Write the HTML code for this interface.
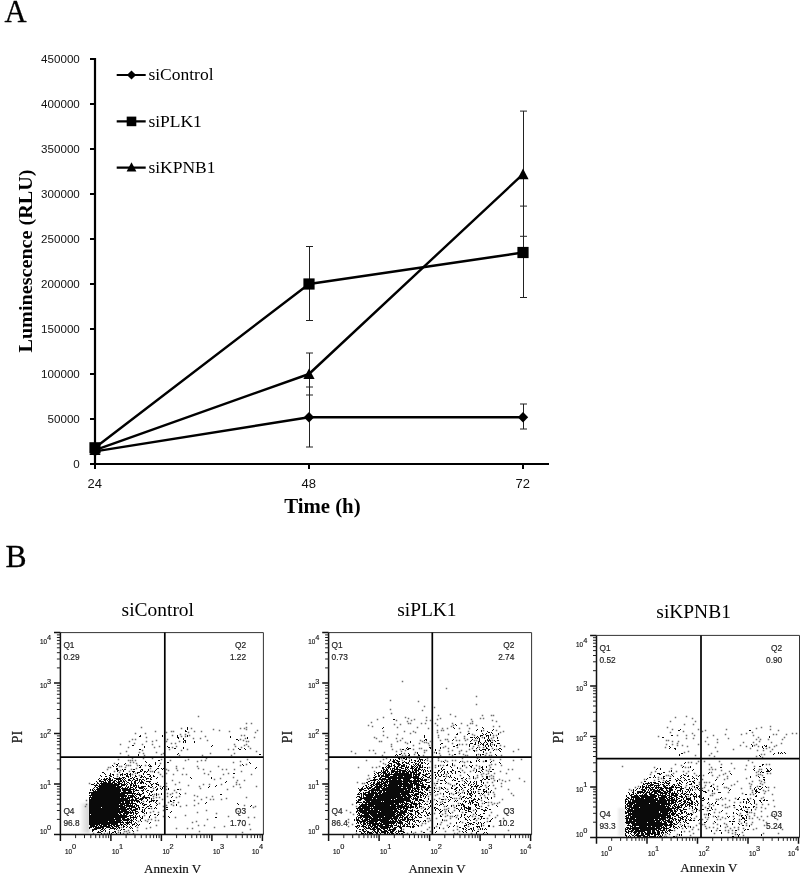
<!DOCTYPE html><html><head><meta charset="utf-8"><title>Figure</title>
<style>html,body{margin:0;padding:0;background:#fff}svg{display:block}.ser{font-family:"Liberation Serif",serif}.san{font-family:"Liberation Sans",sans-serif}</style></head><body>
<svg width="806" height="880" viewBox="0 0 806 880">
<rect width="806" height="880" fill="#fff"/>
<text class="ser" x="4.6" y="22.3" font-size="30.6" fill="#000" stroke="#000" stroke-width="0.3">A</text>
<g stroke="#000" stroke-width="2.2" fill="none">
<path d="M95 58V464H549"/>
<path d="M90 464H95M90 419H95M90 374H95M90 329H95M90 284H95M90 239H95M90 194H95M90 149H95M90 104H95M90 59H95M95 464V469M309 464V469M523 464V469" stroke-width="2"/>
</g>
<g class="san" font-size="11.6" fill="#111" text-anchor="end">
<text x="79.8" y="468.1">0</text>
<text x="79.8" y="423.1">50000</text>
<text x="79.8" y="378.1">100000</text>
<text x="79.8" y="333.1">150000</text>
<text x="79.8" y="288.1">200000</text>
<text x="79.8" y="243.1">250000</text>
<text x="79.8" y="198.1">300000</text>
<text x="79.8" y="153.1">350000</text>
<text x="79.8" y="108.1">400000</text>
<text x="79.8" y="63.1">450000</text>
</g>
<g class="san" font-size="13" fill="#111" text-anchor="middle">
<text x="94.8" y="488.2">24</text>
<text x="308.8" y="488.2">48</text>
<text x="522.8" y="488.2">72</text>
</g>
<text class="ser" x="322.4" y="513.2" font-size="20.8" font-weight="bold" text-anchor="middle" fill="#000">Time (h)</text>
<text class="ser" transform="translate(31.6,261) rotate(-90) scale(1.04,1)" font-size="19.4" font-weight="bold" text-anchor="middle" fill="#000">Luminescence (RLU)</text>
<path d="M309.5 246.5V320.5M306.0 246.5H313.0M306.0 320.5H313.0M309.5 353V395M306.0 353H313.0M306.0 395H313.0M309.5 387V447M306.0 387H313.0M306.0 447H313.0M523.5 111.1V236.30M520.0 111.1H527.0M520.0 236.30H527.0M523.5 206.10V297.5M520.0 206.10H527.0M520.0 297.5H527.0M523.5 404.0V429.0M520.0 404.0H527.0M520.0 429.0H527.0" stroke="#222" stroke-width="1" fill="none"/>
<g stroke="#000" stroke-width="2.4" fill="none" stroke-linejoin="round">
<polyline points="95,451.4 309,417.2 523,417.2"/>
<polyline points="95,447.8 309,284.0 523,252.5"/>
<polyline points="95,450.1 309,374.0 523,174.2"/>
</g>
<path d="M95 446.2L100.2 451.4L95 456.60L89.8 451.4Z" fill="#000"/>
<path d="M309 412.0L314.2 417.2L309 422.4L303.8 417.2Z" fill="#000"/>
<path d="M523 412.0L528.2 417.2L523 422.4L517.8 417.2Z" fill="#000"/>
<rect x="89.4" y="442.2" width="11.2" height="11.2" fill="#000"/>
<rect x="303.4" y="278.4" width="11.2" height="11.2" fill="#000"/>
<rect x="517.4" y="246.9" width="11.2" height="11.2" fill="#000"/>
<path d="M95 444.5L100.6 455.1L89.4 455.1Z" fill="#000"/>
<path d="M309 368.4L314.6 379.0L303.4 379.0Z" fill="#000"/>
<path d="M523 168.6L528.6 179.2L517.4 179.2Z" fill="#000"/>
<path d="M116.7 75H145.7M116.7 121.4H145.7M116.7 167.6H145.7" stroke="#000" stroke-width="2.2"/>
<path d="M131.5 70.4L136.1 75L131.5 79.6L126.9 75Z" fill="#000"/>
<rect x="126.7" y="116.60" width="9.6" height="9.6" fill="#000"/>
<path d="M131.5 162.30L136.4 171.5L126.6 171.5Z" fill="#000"/>
<g class="ser" font-size="17.5" fill="#000">
<text x="148.4" y="80.2">siControl</text><text x="148.4" y="126.6">siPLK1</text><text x="148.4" y="172.8">siKPNB1</text>
</g>
<text class="ser" x="5.4" y="567" font-size="31.6" fill="#000" stroke="#000" stroke-width="0.3">B</text>
<defs><filter id="bl" x="-50%" y="-50%" width="200%" height="200%"><feGaussianBlur stdDeviation="1.3"/></filter></defs>
<defs><linearGradient id="lg" x1="0" x2="1" y1="0" y2="0"><stop offset="0" stop-color="#fff"/><stop offset="0.5" stop-color="#e6e6e6"/><stop offset="1" stop-color="#cfcfcf"/></linearGradient></defs>
<rect x="79.5" y="803" width="10" height="30" fill="url(#lg)" filter="url(#bl)"/>
<g fill="none"><path transform="translate(-0.25,0.5)" d="M198 716h1.5M246 723h1.5M251 723h1.5M141 727h1.5M246 727h1.5M181 728h1.5M191 728h1.5M240 728h1.5M244 728h1.5M213 729h1.5M246 729h1.5M219 730h1.5M257 730h1.5M155 731h1.5M171 731h1.5M173 731h1.5M194 731h1.5M201 731h1.5M229 731h1.5M166 732h1.5M188 732h1.5M255 732h1.5M135 733h1.5M145 733h1.5M180 734h1.5M185 734h1.5M172 735h1.5M189 735h1.5M241 735h1.5M244 735h1.5M181 736h1.5M185 736h1.5M205 736h1.5M146 737h1.5M254 737h1.5M193 738h1.5M200 738h1.5M245 738h1.5M132 739h1.5M135 739h1.5M167 739h1.5M240 739h1.5M156 740h1.5M207 740h1.5M243 740h1.5M129 741h1.5M146 741h1.5M152 741h1.5M166 741h1.5M179 741h1.5M246 741h1.5M248 741h1.5M134 743h1.5M171 743h1.5M175 743h1.5M120 744h1.5M142 744h1.5M152 744h1.5M234 744h1.5M246 744h1.5M244 745h1.5M159 746h1.5M176 746h1.5M235 746h1.5M248 746h1.5M128 747h1.5M154 747h1.5M172 747h1.5M241 747h1.5M250 748h1.5M169 749h1.5M187 749h1.5M228 749h1.5M233 749h1.5M142 750h1.5M181 750h1.5M126 751h1.5M256 751h1.5M139 752h1.5M156 752h1.5M120 753h1.5M143 753h1.5M163 753h1.5M210 753h1.5M234 753h1.5M161 754h1.5M128 755h1.5M144 755h1.5M179 755h1.5M202 755h1.5M231 755h1.5M132 758h1.5M143 758h1.5M152 758h1.5M206 758h1.5M118 759h1.5M161 759h1.5M188 759h1.5M247 759h1.5M128 760h1.5M130 760h1.5M132 760h1.5M135 760h1.5M170 760h1.5M185 760h1.5M201 760h1.5M205 760h1.5M197 761h1.5M240 761h1.5M130 762h1.5M133 762h1.5M233 762h1.5M114 763h1.5M136 763h1.5M160 763h1.5M246 764h1.5M126 765h1.5M128 765h1.5M130 765h1.5M137 765h1.5M145 765h1.5M240 765h1.5M119 766h1.5M121 766h1.5M176 766h1.5M197 766h1.5M218 766h1.5M108 767h1.5M110 767h1.5M125 767h1.5M136 768h1.5M150 768h1.5M176 768h1.5M183 768h1.5M198 768h1.5M107 769h1.5M131 769h1.5M166 769h1.5M203 769h1.5M222 769h1.5M226 769h1.5M234 769h1.5M120 770h1.5M168 770h1.5M177 770h1.5M114 771h1.5M129 771h1.5M150 771h1.5M152 771h1.5M210 771h1.5M241 771h1.5M119 772h1.5M158 772h1.5M135 773h1.5M166 773h1.5M204 773h1.5M228 773h1.5M117 774h1.5M132 774h1.5M160 774h1.5M173 774h1.5M182 774h1.5M186 774h1.5M208 774h1.5M223 774h1.5M251 774h1.5M139 775h1.5M117 776h1.5M162 776h1.5M233 777h1.5M220 778h1.5M214 779h1.5M172 780h1.5M237 780h1.5M244 780h1.5M179 782h1.5M236 782h1.5M89 783h1.5M166 783h1.5M175 784h1.5M203 784h1.5M209 784h1.5M221 784h1.5M236 784h1.5M239 784h1.5M188 785h1.5M160 786h1.5M166 786h1.5M199 786h1.5M233 786h1.5M256 786h1.5M240 787h1.5M153 788h1.5M200 788h1.5M166 789h1.5M180 789h1.5M227 789h1.5M174 790h1.5M176 792h1.5M167 793h1.5M172 793h1.5M185 793h1.5M154 794h1.5M158 794h1.5M170 794h1.5M194 795h1.5M153 796h1.5M167 796h1.5M179 796h1.5M197 796h1.5M212 796h1.5M156 797h1.5M159 797h1.5M176 797h1.5M206 797h1.5M246 797h1.5M153 798h1.5M226 798h1.5M162 799h1.5M201 799h1.5M210 799h1.5M213 799h1.5M221 799h1.5M86 800h1.5M194 800h1.5M143 801h1.5M168 802h1.5M173 802h1.5M178 802h1.5M159 803h1.5M198 803h1.5M86 804h1.5M171 804h1.5M166 805h1.5M173 805h1.5M186 805h1.5M194 805h1.5M244 805h1.5M85 806h1.5M163 806h1.5M180 806h1.5M255 806h1.5M253 807h1.5M151 808h1.5M236 809h1.5M163 810h1.5M206 810h1.5M153 811h1.5M238 811h1.5M150 812h1.5M158 812h1.5M197 812h1.5M216 813h1.5M144 815h1.5M185 815h1.5M163 816h1.5M228 816h1.5M155 817h1.5M175 817h1.5M248 817h1.5M254 817h1.5M148 819h1.5M151 819h1.5M207 819h1.5M145 820h1.5M155 820h1.5M158 820h1.5M239 820h1.5M138 821h1.5M147 821h1.5M196 821h1.5M192 822h1.5M249 824h1.5M156 825h1.5M198 825h1.5M204 825h1.5M244 825h1.5M224 826h1.5M121 827h1.5M137 827h1.5M150 827h1.5M214 827h1.5M146 828h1.5M176 828h1.5M187 828h1.5M192 828h1.5M250 829h1.5M118 830h1.5M128 830h1.5M137 830h1.5M124 831h1.5M126 831h1.5M199 831h1.5M118 832h1.5M129 832h1.5M242 832h1.5M93 833h1.5M104 833h1.5M107 833h1.5M123 833h1.5M127 833h1.5M133 833h1.5" stroke="#707070" stroke-width="1.5"/><path transform="translate(0,0.5)" d="M187 727h1M187 728h1M187 729h1M185 730h1M185 731h2M140 735h1M162 735h1M177 735h1M187 735h1M139 736h2M162 736h1M177 736h1M187 736h1M230 736h1M177 737h2M230 737h1M247 737h1M178 738h1M183 738h1M247 738h1M183 739h1M236 739h2M184 740h2M238 740h1M183 741h1M185 741h1M194 741h1M183 742h1M185 742h1M194 742h1M132 745h2M212 745h1M144 746h1M167 746h1M211 746h1M144 747h1M168 747h2M183 747h1M174 748h2M183 748h1M238 748h1M244 748h1M139 749h2M239 749h2M245 749h1M178 753h1M138 754h1M177 754h1M259 754h2M138 755h1M158 760h2M145 761h1M146 762h1M155 762h1M167 762h2M249 762h1M118 763h1M125 763h1M155 763h1M250 763h1M116 764h2M124 764h1M149 764h1M155 764h1M242 764h1M112 765h1M117 765h1M139 765h1M141 765h1M148 765h1M150 765h1M159 765h1M243 765h1M113 766h1M116 766h1M140 766h1M149 766h3M158 766h1M139 767h2M256 767h1M116 768h2M157 768h2M161 768h1M163 768h1M255 768h1M116 769h2M122 769h1M124 769h2M133 769h2M141 769h2M148 769h1M156 769h1M162 769h1M117 770h2M123 770h1M140 770h1M142 770h1M148 770h1M155 770h1M117 771h1M123 771h1M132 771h3M140 771h2M144 771h2M147 771h1M154 771h1M102 772h2M133 772h1M137 772h3M144 772h1M146 772h1M154 772h1M104 773h1M110 773h1M122 773h1M126 773h2M130 773h1M137 773h1M143 773h1M233 773h2M105 774h1M110 774h1M112 774h2M120 774h3M124 774h2M127 774h1M129 774h2M143 774h1M147 774h3M100 775h1M109 775h2M113 775h1M120 775h1M122 775h1M126 775h2M130 775h1M135 775h1M141 775h1M150 775h1M153 775h1M101 776h1M105 776h2M110 776h2M126 776h3M130 776h1M135 776h2M141 776h2M144 776h1M149 776h2M153 776h2M109 777h1M113 777h1M119 777h1M122 777h3M128 777h1M132 777h1M134 777h1M140 777h2M143 777h1M145 777h1M151 777h1M157 777h1M190 777h1M211 777h1M99 778h1M104 778h1M106 778h2M109 778h2M114 778h8M123 778h1M125 778h1M130 778h2M133 778h1M136 778h2M146 778h3M150 778h1M156 778h1M191 778h1M211 778h1M98 779h1M101 779h1M103 779h4M108 779h3M112 779h1M116 779h5M122 779h1M124 779h1M128 779h2M133 779h2M137 779h1M139 779h2M142 779h2M146 779h1M150 779h2M99 780h2M104 780h2M107 780h1M109 780h4M114 780h2M118 780h1M120 780h2M123 780h1M125 780h1M128 780h3M132 780h1M135 780h3M139 780h1M141 780h1M144 780h1M96 781h1M99 781h5M105 781h1M108 781h3M113 781h2M116 781h1M118 781h4M123 781h2M126 781h1M131 781h1M134 781h2M139 781h1M141 781h2M146 781h5M226 781h1M97 782h1M101 782h1M103 782h4M108 782h3M112 782h3M117 782h3M122 782h1M124 782h1M127 782h2M131 782h1M134 782h2M138 782h1M140 782h4M149 782h1M157 782h1M225 782h1M94 783h1M97 783h2M100 783h13M114 783h3M118 783h4M124 783h1M126 783h1M129 783h1M131 783h2M134 783h2M137 783h1M140 783h2M143 783h1M145 783h1M150 783h1M153 783h1M155 783h2M91 784h3M96 784h1M99 784h1M101 784h19M121 784h5M127 784h1M130 784h2M133 784h1M135 784h1M146 784h1M151 784h2M156 784h3M94 785h4M99 785h20M121 785h4M126 785h1M130 785h2M133 785h4M138 785h1M148 785h1M151 785h1M158 785h1M216 785h1M95 786h1M98 786h18M117 786h5M126 786h1M128 786h1M130 786h1M133 786h2M136 786h1M138 786h1M141 786h5M148 786h2M152 786h1M156 786h1M163 786h1M209 786h1M215 786h1M94 787h1M96 787h2M99 787h22M122 787h1M125 787h1M127 787h2M130 787h3M135 787h2M138 787h6M150 787h2M155 787h1M162 787h1M208 787h1M93 788h1M97 788h23M121 788h7M129 788h2M133 788h1M135 788h1M139 788h4M144 788h1M146 788h1M157 788h1M160 788h1M162 788h1M168 788h1M90 789h1M92 789h1M94 789h1M96 789h25M122 789h13M136 789h1M143 789h1M145 789h1M156 789h2M161 789h1M168 789h1M177 789h2M90 790h1M92 790h2M95 790h1M97 790h24M122 790h9M133 790h1M135 790h4M141 790h3M147 790h2M153 790h1M156 790h1M93 791h28M123 791h3M128 791h4M133 791h2M142 791h1M146 791h1M150 791h3M89 792h31M121 792h11M133 792h1M138 792h1M143 792h1M147 792h1M151 792h1M89 793h1M91 793h45M137 793h1M139 793h1M142 793h2M149 793h1M156 793h1M161 793h1M179 793h1M91 794h34M127 794h1M132 794h1M134 794h1M136 794h6M149 794h1M152 794h1M156 794h1M161 794h1M180 794h1M220 794h2M89 795h38M128 795h6M135 795h1M139 795h2M144 795h1M148 795h1M150 795h2M156 795h1M90 796h1M92 796h35M128 796h1M130 796h5M136 796h1M140 796h1M143 796h2M172 796h1M89 797h31M121 797h3M125 797h1M127 797h6M134 797h2M138 797h1M142 797h8M171 797h1M89 798h1M91 798h39M132 798h1M135 798h4M140 798h4M145 798h2M149 798h1M151 798h1M89 799h39M129 799h1M131 799h3M135 799h2M139 799h4M147 799h1M151 799h1M89 800h50M141 800h1M147 800h1M151 800h4M156 800h2M170 800h1M173 800h2M89 801h35M125 801h5M131 801h2M134 801h1M136 801h4M146 801h1M149 801h3M153 801h1M156 801h1M170 801h2M89 802h32M122 802h2M125 802h5M131 802h2M137 802h1M139 802h1M141 802h1M149 802h1M155 802h1M206 802h1M89 803h47M140 803h1M142 803h2M156 803h1M205 803h1M237 803h1M89 804h30M120 804h5M126 804h3M130 804h1M132 804h1M135 804h2M142 804h1M144 804h3M150 804h1M157 804h1M176 804h1M238 804h1M89 805h34M124 805h9M134 805h1M136 805h3M143 805h2M149 805h1M156 805h1M176 805h1M251 805h1M89 806h36M126 806h9M136 806h1M138 806h1M147 806h2M150 806h2M250 806h1M89 807h12M102 807h17M120 807h7M129 807h1M131 807h5M138 807h2M142 807h2M146 807h1M155 807h1M166 807h2M89 808h37M127 808h5M135 808h3M139 808h1M145 808h1M148 808h2M154 808h1M156 808h1M89 809h40M130 809h2M133 809h5M139 809h1M142 809h1M144 809h1M166 809h2M89 810h31M121 810h6M129 810h1M131 810h5M142 810h1M144 810h1M89 811h40M130 811h1M132 811h1M135 811h3M141 811h2M144 811h1M171 811h1M89 812h34M124 812h10M135 812h1M138 812h1M142 812h2M146 812h1M170 812h1M89 813h29M119 813h2M123 813h6M130 813h2M133 813h1M135 813h3M144 813h1M146 813h1M89 814h1M91 814h28M120 814h2M123 814h2M126 814h2M133 814h1M136 814h1M154 814h2M158 814h1M89 815h38M129 815h4M135 815h1M139 815h1M150 815h1M157 815h1M89 816h40M130 816h1M133 816h1M135 816h1M137 816h1M139 816h1M142 816h1M149 816h1M168 816h1M89 817h38M130 817h7M140 817h1M142 817h1M149 817h1M169 817h1M215 817h2M89 818h25M115 818h6M122 818h3M127 818h2M130 818h1M133 818h1M136 818h1M141 818h2M89 819h32M122 819h8M131 819h1M133 819h1M135 819h1M140 819h1M89 820h26M116 820h6M123 820h6M130 820h3M136 820h1M140 820h1M89 821h19M109 821h12M122 821h1M127 821h1M129 821h1M131 821h1M133 821h1M141 821h1M89 822h35M125 822h7M135 822h1M150 822h1M89 823h29M120 823h1M123 823h1M126 823h3M131 823h1M134 823h1M136 823h1M149 823h1M89 824h11M101 824h9M111 824h7M120 824h3M124 824h2M127 824h1M129 824h1M132 824h3M137 824h1M139 824h1M90 825h5M96 825h2M99 825h3M103 825h4M108 825h4M113 825h2M116 825h4M121 825h1M123 825h1M126 825h1M132 825h1M136 825h1M138 825h1M90 826h7M98 826h1M100 826h10M111 826h2M114 826h5M123 826h2M127 826h1M130 826h1M135 826h1M89 827h3M93 827h1M95 827h9M106 827h5M112 827h2M116 827h1M118 827h2M123 827h1M126 827h1M129 827h1M131 827h1M89 828h1M94 828h7M102 828h2M105 828h1M110 828h6M117 828h1M119 828h1M130 828h1M132 828h1M92 829h5M101 829h2M104 829h1M109 829h1M114 829h1M116 829h1M121 829h1M123 829h2M92 830h2M100 830h1M103 830h1M105 830h1M120 830h1M132 830h1M92 831h1M98 831h1M101 831h2M105 831h1M109 831h1M114 831h2M133 831h1M97 832h4M109 832h1M112 832h2M115 832h1M120 832h1M101 833h1M109 833h1M111 833h1M116 833h1M120 833h1" stroke="#0a0a0a" stroke-width="1" shape-rendering="crispEdges"/></g>
<g fill="none"><path transform="translate(-0.25,0.5)" d="M402 681h1.5M446 688h1.5M476 696h1.5M390 700h1.5M418 701h1.5M476 704h1.5M424 706h1.5M434 707h1.5M390 709h1.5M422 710h1.5M391 713h1.5M450 714h1.5M438 715h1.5M482 715h1.5M491 715h1.5M493 715h1.5M455 716h1.5M383 717h1.5M405 717h1.5M426 717h1.5M408 718h1.5M440 718h1.5M480 718h1.5M483 718h1.5M377 719h1.5M414 719h1.5M437 719h1.5M471 719h1.5M396 720h1.5M411 720h1.5M426 720h1.5M430 720h1.5M492 720h1.5M407 721h1.5M472 721h1.5M496 721h1.5M371 722h1.5M408 723h1.5M410 723h1.5M421 723h1.5M425 723h1.5M435 723h1.5M452 723h1.5M461 723h1.5M470 723h1.5M472 723h1.5M394 724h1.5M400 724h1.5M368 725h1.5M437 725h1.5M453 725h1.5M467 725h1.5M476 725h1.5M372 726h1.5M451 726h1.5M493 726h1.5M499 726h1.5M397 727h1.5M417 727h1.5M428 728h1.5M442 728h1.5M447 728h1.5M459 728h1.5M469 728h1.5M437 730h1.5M441 730h1.5M443 730h1.5M483 730h1.5M496 730h1.5M383 731h1.5M404 731h1.5M413 731h1.5M468 731h1.5M503 731h1.5M415 732h1.5M437 732h1.5M460 732h1.5M500 732h1.5M410 733h1.5M397 734h1.5M448 734h1.5M472 734h1.5M383 735h1.5M438 735h1.5M474 735h1.5M493 735h1.5M496 735h1.5M464 736h1.5M374 737h1.5M387 737h1.5M438 737h1.5M455 737h1.5M482 737h1.5M493 737h1.5M376 738h1.5M396 738h1.5M402 738h1.5M464 738h1.5M491 738h1.5M445 739h1.5M447 739h1.5M467 739h1.5M400 740h1.5M420 740h1.5M440 740h1.5M456 740h1.5M459 740h1.5M465 740h1.5M474 740h1.5M476 740h1.5M492 740h1.5M379 741h1.5M381 741h1.5M397 741h1.5M422 741h1.5M430 741h1.5M448 741h1.5M405 742h1.5M424 742h1.5M426 742h1.5M407 743h1.5M419 743h1.5M428 743h1.5M452 743h1.5M391 744h1.5M459 744h1.5M462 744h1.5M466 744h1.5M492 744h1.5M413 745h1.5M429 745h1.5M478 745h1.5M500 745h1.5M391 746h1.5M445 746h1.5M473 746h1.5M504 746h1.5M443 747h1.5M457 747h1.5M479 747h1.5M483 747h1.5M419 748h1.5M421 748h1.5M448 748h1.5M472 748h1.5M492 748h1.5M392 749h1.5M400 749h1.5M413 749h1.5M469 749h1.5M496 749h1.5M518 749h1.5M369 750h1.5M373 750h1.5M405 750h1.5M424 750h1.5M426 750h1.5M439 750h1.5M452 750h1.5M461 750h1.5M476 750h1.5M351 751h1.5M396 751h1.5M401 751h1.5M448 751h1.5M459 751h1.5M466 751h1.5M513 751h1.5M384 752h1.5M415 752h1.5M424 752h1.5M434 752h1.5M490 752h1.5M355 753h1.5M375 753h1.5M404 753h1.5M439 753h1.5M459 753h1.5M486 753h1.5M414 754h1.5M449 754h1.5M463 754h1.5M478 754h1.5M382 755h1.5M402 755h1.5M405 755h1.5M423 755h1.5M440 755h1.5M452 755h1.5M465 755h1.5M467 755h1.5M485 755h1.5M489 755h1.5M491 755h1.5M501 755h1.5M386 758h1.5M401 758h1.5M409 758h1.5M417 758h1.5M427 758h1.5M438 758h1.5M462 758h1.5M477 758h1.5M383 759h1.5M490 759h1.5M500 759h1.5M521 759h1.5M366 760h1.5M402 760h1.5M427 760h1.5M438 760h1.5M445 760h1.5M452 760h1.5M455 760h1.5M493 760h1.5M513 760h1.5M380 761h1.5M430 761h1.5M441 761h1.5M447 761h1.5M462 761h1.5M467 761h1.5M483 761h1.5M464 762h1.5M383 763h1.5M385 764h1.5M491 764h1.5M495 764h1.5M435 765h1.5M440 765h1.5M443 765h1.5M454 765h1.5M464 765h1.5M476 765h1.5M489 765h1.5M501 765h1.5M379 766h1.5M479 766h1.5M358 767h1.5M372 767h1.5M376 767h1.5M429 767h1.5M435 767h1.5M466 767h1.5M490 767h1.5M460 768h1.5M474 768h1.5M479 768h1.5M489 769h1.5M508 769h1.5M512 769h1.5M462 770h1.5M473 770h1.5M486 770h1.5M374 771h1.5M470 771h1.5M488 771h1.5M500 771h1.5M464 772h1.5M483 773h1.5M488 773h1.5M494 773h1.5M506 773h1.5M446 774h1.5M481 774h1.5M486 774h1.5M368 775h1.5M460 775h1.5M477 775h1.5M491 775h1.5M446 776h1.5M482 776h1.5M489 776h1.5M493 776h1.5M477 777h1.5M369 778h1.5M469 778h1.5M475 778h1.5M491 778h1.5M493 778h1.5M519 778h1.5M367 779h1.5M428 779h1.5M438 779h1.5M499 779h1.5M462 780h1.5M494 780h1.5M502 780h1.5M509 780h1.5M437 781h1.5M505 781h1.5M524 781h1.5M357 782h1.5M487 782h1.5M492 782h1.5M362 783h1.5M364 783h1.5M434 783h1.5M448 783h1.5M501 783h1.5M450 784h1.5M435 785h1.5M454 785h1.5M485 785h1.5M493 785h1.5M501 786h1.5M439 787h1.5M486 787h1.5M436 788h1.5M495 788h1.5M439 789h1.5M447 789h1.5M508 789h1.5M429 790h1.5M463 790h1.5M478 791h1.5M458 792h1.5M462 792h1.5M488 792h1.5M493 792h1.5M440 793h1.5M451 793h1.5M511 793h1.5M430 794h1.5M437 794h1.5M453 794h1.5M488 794h1.5M494 794h1.5M435 795h1.5M480 795h1.5M484 795h1.5M513 795h1.5M428 796h1.5M443 796h1.5M460 796h1.5M494 796h1.5M485 797h1.5M439 798h1.5M454 798h1.5M456 798h1.5M459 798h1.5M434 799h1.5M445 799h1.5M502 799h1.5M481 800h1.5M427 801h1.5M442 801h1.5M440 802h1.5M488 802h1.5M491 802h1.5M499 802h1.5M458 803h1.5M482 803h1.5M494 803h1.5M497 803h1.5M352 804h1.5M492 804h1.5M453 805h1.5M488 805h1.5M356 806h1.5M444 806h1.5M481 806h1.5M423 807h1.5M454 807h1.5M421 808h1.5M448 808h1.5M444 809h1.5M446 809h1.5M346 810h1.5M454 810h1.5M473 810h1.5M445 811h1.5M350 812h1.5M452 812h1.5M462 812h1.5M491 812h1.5M434 813h1.5M445 813h1.5M505 813h1.5M353 814h1.5M442 814h1.5M473 814h1.5M447 815h1.5M457 815h1.5M489 815h1.5M497 815h1.5M445 816h1.5M450 816h1.5M452 816h1.5M472 816h1.5M475 816h1.5M456 817h1.5M495 817h1.5M427 818h1.5M429 818h1.5M436 818h1.5M450 818h1.5M478 818h1.5M487 818h1.5M503 818h1.5M348 819h1.5M430 820h1.5M444 820h1.5M446 820h1.5M476 820h1.5M504 820h1.5M428 821h1.5M487 821h1.5M348 822h1.5M441 822h1.5M462 822h1.5M422 823h1.5M425 823h1.5M450 823h1.5M352 824h1.5M440 824h1.5M421 825h1.5M447 825h1.5M483 825h1.5M348 826h1.5M436 826h1.5M457 826h1.5M468 826h1.5M493 826h1.5M429 827h1.5M443 828h1.5M403 829h1.5M427 829h1.5M457 829h1.5M478 829h1.5M453 830h1.5M508 830h1.5M421 831h1.5M430 831h1.5M445 831h1.5M459 831h1.5M415 832h1.5M356 833h1.5M407 833h1.5M413 833h1.5M454 833h1.5M457 833h1.5M471 833h1.5" stroke="#707070" stroke-width="1.5"/><path transform="translate(0,0.5)" d="M393 719h2M455 724h1M456 725h1M383 727h1M453 727h1M482 727h1M382 728h1M454 728h1M483 728h1M477 729h1M493 729h1M476 730h1M481 730h1M492 730h1M481 731h1M487 731h1M488 732h2M491 732h1M457 733h1M468 733h2M482 733h1M486 733h1M492 733h1M498 733h1M456 734h2M467 734h1M483 734h1M485 734h1M490 734h1M498 734h1M424 735h1M480 735h3M486 735h3M490 735h1M424 736h1M477 736h1M480 736h1M486 736h1M488 736h1M424 737h1M470 737h3M474 737h1M476 737h1M478 737h1M484 737h1M488 737h1M497 737h1M475 738h1M477 738h1M479 738h1M484 738h1M488 738h1M497 738h1M425 739h2M453 739h1M472 739h1M479 739h1M487 739h1M489 739h1M424 740h1M426 740h1M452 740h1M471 740h1M479 740h1M485 740h1M487 740h4M494 740h1M497 740h2M410 741h1M470 741h1M478 741h2M485 741h1M488 741h1M490 741h1M495 741h1M410 742h1M475 742h1M478 742h1M480 742h1M484 742h1M486 742h1M491 742h2M441 743h2M470 743h3M475 743h1M478 743h1M481 743h1M483 743h1M487 743h1M490 743h1M497 743h3M440 744h1M457 744h1M469 744h1M474 744h2M480 744h1M482 744h2M486 744h2M490 744h1M494 744h1M456 745h2M469 745h1M483 745h1M485 745h1M488 745h1M490 745h1M494 745h1M496 745h1M453 746h2M469 746h1M485 746h1M488 746h1M491 746h1M496 746h1M407 747h1M429 747h2M440 747h1M477 747h1M486 747h1M406 748h1M408 748h3M430 748h1M440 748h1M476 748h1M486 748h2M499 748h2M402 749h2M407 749h2M435 749h1M479 749h1M482 749h4M488 749h2M494 749h1M498 749h1M501 749h1M435 750h1M473 750h2M480 750h2M485 750h1M488 750h1M493 750h1M499 750h1M474 751h1M483 751h1M500 751h1M417 752h1M436 752h1M483 752h1M401 753h1M408 753h1M417 753h1M436 753h1M396 754h1M399 754h2M409 754h1M418 754h1M454 754h2M476 754h1M480 754h1M482 754h2M495 754h1M395 755h1M397 755h1M408 755h2M418 755h2M476 755h1M480 755h1M496 755h1M398 758h2M403 758h2M406 758h1M419 758h1M390 759h1M393 759h1M395 759h1M399 759h1M405 759h2M411 759h1M419 759h4M425 759h1M479 759h1M390 760h1M393 760h2M396 760h2M409 760h1M411 760h1M414 760h2M418 760h1M420 760h1M422 760h1M424 760h1M476 760h1M478 760h1M485 760h2M389 761h1M392 761h3M397 761h3M404 761h1M409 761h1M415 761h1M417 761h2M420 761h1M443 761h1M460 761h1M470 761h1M476 761h1M479 761h1M485 761h2M491 761h1M388 762h1M393 762h4M398 762h1M402 762h2M405 762h2M408 762h1M411 762h2M414 762h1M419 762h1M421 762h2M424 762h1M444 762h1M459 762h1M470 762h2M490 762h1M499 762h1M389 763h3M396 763h4M402 763h1M406 763h3M415 763h2M418 763h1M421 763h2M425 763h1M428 763h1M452 763h1M500 763h1M388 764h1M391 764h1M394 764h1M397 764h4M403 764h2M409 764h1M413 764h1M415 764h1M417 764h2M420 764h1M427 764h1M447 764h1M452 764h1M387 765h3M391 765h1M393 765h2M398 765h2M401 765h4M406 765h1M411 765h1M414 765h1M416 765h1M418 765h3M422 765h1M438 765h1M446 765h2M452 765h1M462 765h1M469 765h1M472 765h1M386 766h1M388 766h4M394 766h2M397 766h2M401 766h4M406 766h1M408 766h1M411 766h3M415 766h1M417 766h1M419 766h2M422 766h1M438 766h1M450 766h1M462 766h1M470 766h2M482 766h1M486 766h1M382 767h2M385 767h1M387 767h3M394 767h1M396 767h2M399 767h3M405 767h4M411 767h2M414 767h1M416 767h2M419 767h4M424 767h2M427 767h1M442 767h1M451 767h1M457 767h1M471 767h1M481 767h2M486 767h1M382 768h2M386 768h1M388 768h1M390 768h1M392 768h3M396 768h2M401 768h3M405 768h1M407 768h1M410 768h4M415 768h2M418 768h2M427 768h1M441 768h1M457 768h1M482 768h1M383 769h2M386 769h2M390 769h1M392 769h1M394 769h7M405 769h2M408 769h1M412 769h1M414 769h3M418 769h3M422 769h1M424 769h1M441 769h1M443 769h2M452 769h1M476 769h1M482 769h2M492 769h2M381 770h1M383 770h1M385 770h3M391 770h4M397 770h1M399 770h7M407 770h1M409 770h1M412 770h1M414 770h5M421 770h1M423 770h1M425 770h1M427 770h1M430 770h1M438 770h2M442 770h1M452 770h2M476 770h1M481 770h1M381 771h1M383 771h3M387 771h2M391 771h10M402 771h5M408 771h3M412 771h2M415 771h2M418 771h1M423 771h1M425 771h1M428 771h1M430 771h1M438 771h1M441 771h1M444 771h1M447 771h1M450 771h2M455 771h1M458 771h2M476 771h1M478 771h2M482 771h1M490 771h2M376 772h1M378 772h3M382 772h4M387 772h1M389 772h1M391 772h3M395 772h3M399 772h2M402 772h3M406 772h3M410 772h7M419 772h2M423 772h1M434 772h2M437 772h1M440 772h1M444 772h1M447 772h1M451 772h1M455 772h1M460 772h1M475 772h1M480 772h1M374 773h1M377 773h2M381 773h1M383 773h4M388 773h2M391 773h1M394 773h15M410 773h2M413 773h2M416 773h1M418 773h3M426 773h1M428 773h2M437 773h1M444 773h1M448 773h1M452 773h1M455 773h1M375 774h1M378 774h1M380 774h1M383 774h1M385 774h27M413 774h7M422 774h2M425 774h3M435 774h1M438 774h1M441 774h1M443 774h1M467 774h1M374 775h1M378 775h2M381 775h3M385 775h5M393 775h19M413 775h1M415 775h2M418 775h2M423 775h3M430 775h1M435 775h1M438 775h1M441 775h1M450 775h1M468 775h1M375 776h2M378 776h2M381 776h8M390 776h7M398 776h5M404 776h8M413 776h6M422 776h1M425 776h2M429 776h1M436 776h1M439 776h2M443 776h2M448 776h1M450 776h1M469 776h1M473 776h1M486 776h2M373 777h3M380 777h2M385 777h34M421 777h1M423 777h1M427 777h3M435 777h1M449 777h1M451 777h1M454 777h1M463 777h1M473 777h1M486 777h2M374 778h1M379 778h2M382 778h4M388 778h23M413 778h8M422 778h1M430 778h1M435 778h1M445 778h1M455 778h1M457 778h1M461 778h2M466 778h1M473 778h1M483 778h1M486 778h2M373 779h5M379 779h12M392 779h5M398 779h3M403 779h7M414 779h2M417 779h2M420 779h3M424 779h3M444 779h1M453 779h1M457 779h1M465 779h1M482 779h1M484 779h2M488 779h2M370 780h6M378 780h1M381 780h2M384 780h1M386 780h2M389 780h13M403 780h9M413 780h7M421 780h6M440 780h3M444 780h1M452 780h1M454 780h2M466 780h1M480 780h2M497 780h1M368 781h2M374 781h1M377 781h1M379 781h1M381 781h3M385 781h37M425 781h1M430 781h1M445 781h1M458 781h2M464 781h1M467 781h1M470 781h1M474 781h1M476 781h1M481 781h1M497 781h1M366 782h2M371 782h1M373 782h2M377 782h5M383 782h5M389 782h13M403 782h5M409 782h3M413 782h4M418 782h1M420 782h1M422 782h1M426 782h4M446 782h1M465 782h1M470 782h1M473 782h1M476 782h1M481 782h1M483 782h1M367 783h1M370 783h1M373 783h2M376 783h4M381 783h5M387 783h1M389 783h20M410 783h9M420 783h3M436 783h2M440 783h2M445 783h1M456 783h2M464 783h1M466 783h1M469 783h1M474 783h1M476 783h1M483 783h1M368 784h1M371 784h3M375 784h8M384 784h3M388 784h25M414 784h6M422 784h2M425 784h2M456 784h1M459 784h1M462 784h1M468 784h1M471 784h1M473 784h1M476 784h1M481 784h1M365 785h2M370 785h2M373 785h2M376 785h2M379 785h3M383 785h15M399 785h3M403 785h10M414 785h1M416 785h8M428 785h2M452 785h1M459 785h1M463 785h2M468 785h1M470 785h1M475 785h1M477 785h2M482 785h1M489 785h1M363 786h1M366 786h1M368 786h1M371 786h2M375 786h8M384 786h3M388 786h25M416 786h3M421 786h5M428 786h2M452 786h1M460 786h1M471 786h2M474 786h4M480 786h2M488 786h1M362 787h1M366 787h2M369 787h3M374 787h8M383 787h2M386 787h15M403 787h3M407 787h6M414 787h1M416 787h4M421 787h5M427 787h4M434 787h1M441 787h1M444 787h1M451 787h1M456 787h2M461 787h1M464 787h2M471 787h1M476 787h1M479 787h1M358 788h1M361 788h2M364 788h2M367 788h4M372 788h3M376 788h4M381 788h30M412 788h7M421 788h1M424 788h1M426 788h3M434 788h1M441 788h2M445 788h1M451 788h2M455 788h2M462 788h1M470 788h1M473 788h1M476 788h1M488 788h1M359 789h5M368 789h1M371 789h9M382 789h25M408 789h3M412 789h1M414 789h2M417 789h3M421 789h2M425 789h3M443 789h1M454 789h2M459 789h1M461 789h1M468 789h1M471 789h1M473 789h1M478 789h3M483 789h2M488 789h1M359 790h3M364 790h3M369 790h35M405 790h5M411 790h3M415 790h2M418 790h1M422 790h1M426 790h2M434 790h1M456 790h1M459 790h1M467 790h1M470 790h1M483 790h1M486 790h1M491 790h1M360 791h1M368 791h2M371 791h3M375 791h1M377 791h1M379 791h3M383 791h2M386 791h24M411 791h2M414 791h5M420 791h1M424 791h1M435 791h1M437 791h2M445 791h1M448 791h1M455 791h1M467 791h2M471 791h1M473 791h1M475 791h1M483 791h4M490 791h1M359 792h1M363 792h1M365 792h5M371 792h6M378 792h4M383 792h31M418 792h5M425 792h1M429 792h2M434 792h1M446 792h2M456 792h1M464 792h1M468 792h1M471 792h1M473 792h1M475 792h1M484 792h1M486 792h1M490 792h1M358 793h1M360 793h2M363 793h3M368 793h13M382 793h18M401 793h8M413 793h1M415 793h4M421 793h3M427 793h1M443 793h1M449 793h1M455 793h2M460 793h1M464 793h1M467 793h1M469 793h3M474 793h1M478 793h2M481 793h1M483 793h1M357 794h3M361 794h1M363 794h11M375 794h3M379 794h31M411 794h2M414 794h5M420 794h1M422 794h1M424 794h2M427 794h1M443 794h1M449 794h1M459 794h1M467 794h1M469 794h2M472 794h1M482 794h1M361 795h1M363 795h1M365 795h9M375 795h26M402 795h4M407 795h4M412 795h5M420 795h2M423 795h1M426 795h1M458 795h1M470 795h2M475 795h1M357 796h3M361 796h1M363 796h1M366 796h7M374 796h33M408 796h4M414 796h1M416 796h3M420 796h1M423 796h1M425 796h1M446 796h1M449 796h1M463 796h2M471 796h1M475 796h1M356 797h1M359 797h3M363 797h40M404 797h7M413 797h1M415 797h1M417 797h2M420 797h2M425 797h1M447 797h1M450 797h2M462 797h2M466 797h1M469 797h2M481 797h1M487 797h1M491 797h1M360 798h12M373 798h3M377 798h19M397 798h13M411 798h1M413 798h5M424 798h1M428 798h1M452 798h1M461 798h1M465 798h1M467 798h2M471 798h1M474 798h1M478 798h1M481 798h1M487 798h1M491 798h1M358 799h4M364 799h27M392 799h2M395 799h15M412 799h2M415 799h3M419 799h3M428 799h1M441 799h3M448 799h1M450 799h1M461 799h1M473 799h3M478 799h2M488 799h1M356 800h1M358 800h3M365 800h46M415 800h3M419 800h5M430 800h1M436 800h1M449 800h1M455 800h1M457 800h1M464 800h1M469 800h1M471 800h3M477 800h1M357 801h2M363 801h2M366 801h4M371 801h10M382 801h1M384 801h20M406 801h5M412 801h1M414 801h1M418 801h1M423 801h2M430 801h1M437 801h1M448 801h1M454 801h1M456 801h1M463 801h1M465 801h2M469 801h1M471 801h2M475 801h1M484 801h1M356 802h6M363 802h42M406 802h1M410 802h3M414 802h1M419 802h1M422 802h1M430 802h1M444 802h2M465 802h1M469 802h2M472 802h2M476 802h2M485 802h2M356 803h1M362 803h1M365 803h2M368 803h26M395 803h4M400 803h1M402 803h1M404 803h5M411 803h6M418 803h3M425 803h1M429 803h1M436 803h1M442 803h1M460 803h1M462 803h1M468 803h1M470 803h1M472 803h1M478 803h1M484 803h1M359 804h1M361 804h38M401 804h3M405 804h3M409 804h3M413 804h5M419 804h1M421 804h1M424 804h1M426 804h2M435 804h1M437 804h1M440 804h2M443 804h1M461 804h3M470 804h1M474 804h3M478 804h1M360 805h7M368 805h6M375 805h15M391 805h5M397 805h6M404 805h3M408 805h1M410 805h2M415 805h2M419 805h1M430 805h1M439 805h1M447 805h1M451 805h1M456 805h1M458 805h2M461 805h1M463 805h2M475 805h2M478 805h1M496 805h1M359 806h50M410 806h4M415 806h2M419 806h3M428 806h1M430 806h1M446 806h1M451 806h1M456 806h1M463 806h2M468 806h1M475 806h1M479 806h1M497 806h1M358 807h3M362 807h8M371 807h1M373 807h23M397 807h8M406 807h8M415 807h1M417 807h1M419 807h1M429 807h1M434 807h2M461 807h1M464 807h3M468 807h3M476 807h1M485 807h2M356 808h43M400 808h2M403 808h5M410 808h1M416 808h2M425 808h1M428 808h1M434 808h1M436 808h2M456 808h2M461 808h1M464 808h1M466 808h5M477 808h3M487 808h1M357 809h1M359 809h4M364 809h6M371 809h2M374 809h23M398 809h3M403 809h1M405 809h3M412 809h1M424 809h2M427 809h1M435 809h1M438 809h1M440 809h1M458 809h1M460 809h1M462 809h1M464 809h1M468 809h3M475 809h1M481 809h2M485 809h1M489 809h2M357 810h21M379 810h14M394 810h4M400 810h3M404 810h3M408 810h5M414 810h1M417 810h2M423 810h1M435 810h1M439 810h1M442 810h1M448 810h1M459 810h1M465 810h2M468 810h1M476 810h1M483 810h4M356 811h2M359 811h8M368 811h12M381 811h18M400 811h7M410 811h3M415 811h3M423 811h1M425 811h1M440 811h2M448 811h1M459 811h1M468 811h3M476 811h1M484 811h1M356 812h1M358 812h1M360 812h36M397 812h10M408 812h1M415 812h1M417 812h2M421 812h2M426 812h1M429 812h1M440 812h1M449 812h1M465 812h2M471 812h1M475 812h1M358 813h2M362 813h15M378 813h17M396 813h2M399 813h6M407 813h1M409 813h3M415 813h1M418 813h2M426 813h1M428 813h2M439 813h1M450 813h1M475 813h1M483 813h2M357 814h1M359 814h1M361 814h1M364 814h5M370 814h26M397 814h5M403 814h3M408 814h1M410 814h3M415 814h1M418 814h1M420 814h1M427 814h1M430 814h1M461 814h1M464 814h2M476 814h1M480 814h1M358 815h12M371 815h24M396 815h7M404 815h1M407 815h2M411 815h1M413 815h1M417 815h1M421 815h1M424 815h1M427 815h2M440 815h1M455 815h1M461 815h1M464 815h1M470 815h1M478 815h2M357 816h1M360 816h11M372 816h12M385 816h14M400 816h1M402 816h2M406 816h2M410 816h1M412 816h1M415 816h1M418 816h1M425 816h1M440 816h2M454 816h1M461 816h1M467 816h1M469 816h1M480 816h3M356 817h1M358 817h4M363 817h9M373 817h19M393 817h5M399 817h4M404 817h4M409 817h1M411 817h2M415 817h2M419 817h3M460 817h1M464 817h1M468 817h1M481 817h1M356 818h1M358 818h1M360 818h1M362 818h1M365 818h3M369 818h9M379 818h2M382 818h16M399 818h1M402 818h1M404 818h2M407 818h2M412 818h1M414 818h1M458 818h1M465 818h1M474 818h2M481 818h1M483 818h2M492 818h1M354 819h1M356 819h3M361 819h2M364 819h6M371 819h19M391 819h2M394 819h3M398 819h1M400 819h6M407 819h7M442 819h1M458 819h1M465 819h2M469 819h1M473 819h2M480 819h1M491 819h1M354 820h1M356 820h4M362 820h6M369 820h20M390 820h1M392 820h2M395 820h2M398 820h3M402 820h3M407 820h2M410 820h1M412 820h1M414 820h1M416 820h3M424 820h2M442 820h1M467 820h1M470 820h1M490 820h1M357 821h1M359 821h7M367 821h11M380 821h18M399 821h3M405 821h3M409 821h1M413 821h2M418 821h1M420 821h1M423 821h1M425 821h1M460 821h1M489 821h2M357 822h2M360 822h2M363 822h2M366 822h2M369 822h5M375 822h2M379 822h1M381 822h15M397 822h6M407 822h1M409 822h1M415 822h1M419 822h1M456 822h1M459 822h1M467 822h2M473 822h2M478 822h1M480 822h1M484 822h1M356 823h1M358 823h1M360 823h1M363 823h3M367 823h15M383 823h12M396 823h1M398 823h5M405 823h1M408 823h2M412 823h1M437 823h1M456 823h1M465 823h1M469 823h3M476 823h1M478 823h1M481 823h1M483 823h1M361 824h1M363 824h3M367 824h1M369 824h2M372 824h7M380 824h9M391 824h1M393 824h1M396 824h1M400 824h1M402 824h1M404 824h1M406 824h2M409 824h1M412 824h1M414 824h1M416 824h1M437 824h1M466 824h1M468 824h1M470 824h1M472 824h2M477 824h1M481 824h1M357 825h3M362 825h2M366 825h1M368 825h3M372 825h4M377 825h6M385 825h8M394 825h3M398 825h1M400 825h1M403 825h2M407 825h1M413 825h1M417 825h2M454 825h1M464 825h3M481 825h1M488 825h2M355 826h3M359 826h1M361 826h5M368 826h1M370 826h3M374 826h4M379 826h10M390 826h3M397 826h4M402 826h3M406 826h5M412 826h3M418 826h1M449 826h1M453 826h1M464 826h1M476 826h4M481 826h1M488 826h2M356 827h1M358 827h1M363 827h1M365 827h2M368 827h2M371 827h1M373 827h5M380 827h11M392 827h1M394 827h3M399 827h3M410 827h1M412 827h2M434 827h1M439 827h1M448 827h1M459 827h2M465 827h1M473 827h1M477 827h1M479 827h1M357 828h1M364 828h1M366 828h5M372 828h3M376 828h4M381 828h7M389 828h1M393 828h3M400 828h2M434 828h1M439 828h1M462 828h2M466 828h1M470 828h2M473 828h1M480 828h1M482 828h1M485 828h1M359 829h2M362 829h2M365 829h1M370 829h6M377 829h4M383 829h2M387 829h1M389 829h7M401 829h1M463 829h1M465 829h1M468 829h2M471 829h1M473 829h1M480 829h1M482 829h1M484 829h1M486 829h1M356 830h1M362 830h2M366 830h1M373 830h2M377 830h2M380 830h2M384 830h3M388 830h3M392 830h3M398 830h1M400 830h2M466 830h1M472 830h1M474 830h1M356 831h1M359 831h2M363 831h3M367 831h2M372 831h1M374 831h2M377 831h2M381 831h7M390 831h4M396 831h1M398 831h6M411 831h1M436 831h1M462 831h1M465 831h1M472 831h1M477 831h2M361 832h1M364 832h1M367 832h5M373 832h1M375 832h3M379 832h1M381 832h5M387 832h2M390 832h3M395 832h1M398 832h1M403 832h2M411 832h1M423 832h2M435 832h1M463 832h1M466 832h1M476 832h1M484 832h1M486 832h1M361 833h3M365 833h1M367 833h1M369 833h4M376 833h2M380 833h1M384 833h2M387 833h1M389 833h1M391 833h3M396 833h2M399 833h1M401 833h2M476 833h1M483 833h1M487 833h1" stroke="#0a0a0a" stroke-width="1" shape-rendering="crispEdges"/></g>
<rect x="618" y="808" width="7.5" height="28" fill="#ececec" filter="url(#bl)"/>
<g fill="none"><path transform="translate(-0.25,0.5)" d="M686 716h1.5M675 717h1.5M692 718h1.5M670 721h1.5M695 721h1.5M684 724h1.5M693 724h1.5M770 726h1.5M667 727h1.5M761 727h1.5M756 728h1.5M672 729h1.5M698 729h1.5M726 729h1.5M770 729h1.5M705 730h1.5M778 730h1.5M683 731h1.5M702 731h1.5M670 732h1.5M752 732h1.5M692 733h1.5M746 733h1.5M792 733h1.5M796 733h1.5M725 734h1.5M741 734h1.5M773 734h1.5M776 734h1.5M786 734h1.5M677 735h1.5M686 735h1.5M694 735h1.5M713 735h1.5M753 735h1.5M658 736h1.5M707 737h1.5M758 737h1.5M784 737h1.5M686 738h1.5M693 738h1.5M728 738h1.5M717 739h1.5M756 739h1.5M760 739h1.5M768 739h1.5M782 739h1.5M666 740h1.5M668 740h1.5M672 741h1.5M678 741h1.5M705 741h1.5M759 741h1.5M717 742h1.5M743 742h1.5M753 742h1.5M771 742h1.5M677 743h1.5M781 743h1.5M666 744h1.5M672 744h1.5M698 744h1.5M708 744h1.5M756 744h1.5M677 745h1.5M682 745h1.5M740 745h1.5M754 745h1.5M776 745h1.5M687 746h1.5M746 746h1.5M758 746h1.5M774 746h1.5M665 747h1.5M715 747h1.5M769 747h1.5M750 748h1.5M766 748h1.5M733 749h1.5M772 749h1.5M757 750h1.5M763 750h1.5M688 751h1.5M717 751h1.5M770 751h1.5M684 752h1.5M711 753h1.5M761 754h1.5M764 754h1.5M695 755h1.5M709 755h1.5M714 756h1.5M756 756h1.5M762 757h1.5M748 760h1.5M698 761h1.5M704 761h1.5M719 761h1.5M688 762h1.5M691 762h1.5M752 762h1.5M696 763h1.5M731 763h1.5M675 764h1.5M709 764h1.5M721 764h1.5M766 764h1.5M769 764h1.5M681 765h1.5M746 765h1.5M622 766h1.5M754 766h1.5M654 767h1.5M685 767h1.5M688 767h1.5M711 767h1.5M671 768h1.5M734 768h1.5M709 769h1.5M712 769h1.5M715 769h1.5M745 769h1.5M759 769h1.5M761 769h1.5M721 770h1.5M655 771h1.5M669 771h1.5M676 771h1.5M683 771h1.5M688 771h1.5M729 771h1.5M758 771h1.5M651 772h1.5M711 772h1.5M756 772h1.5M673 773h1.5M686 773h1.5M694 773h1.5M725 773h1.5M767 773h1.5M770 773h1.5M650 774h1.5M723 774h1.5M758 774h1.5M760 774h1.5M666 775h1.5M668 775h1.5M696 775h1.5M703 775h1.5M712 775h1.5M719 775h1.5M756 775h1.5M762 775h1.5M670 776h1.5M727 776h1.5M658 777h1.5M717 777h1.5M661 778h1.5M727 778h1.5M746 778h1.5M644 779h1.5M658 779h1.5M702 779h1.5M724 779h1.5M654 780h1.5M663 780h1.5M759 780h1.5M737 781h1.5M752 781h1.5M761 781h1.5M641 782h1.5M699 782h1.5M704 782h1.5M706 782h1.5M709 782h1.5M764 782h1.5M749 783h1.5M760 783h1.5M699 784h1.5M713 784h1.5M734 784h1.5M751 784h1.5M762 784h1.5M686 785h1.5M705 785h1.5M731 785h1.5M638 786h1.5M692 786h1.5M717 786h1.5M750 786h1.5M757 786h1.5M635 787h1.5M685 787h1.5M704 787h1.5M724 787h1.5M726 787h1.5M768 787h1.5M774 787h1.5M702 788h1.5M728 788h1.5M741 788h1.5M750 788h1.5M629 789h1.5M695 789h1.5M717 789h1.5M631 790h1.5M708 790h1.5M752 790h1.5M763 790h1.5M768 790h1.5M765 791h1.5M728 792h1.5M752 792h1.5M712 793h1.5M714 793h1.5M742 793h1.5M764 793h1.5M750 794h1.5M753 794h1.5M772 794h1.5M710 795h1.5M712 795h1.5M688 796h1.5M763 797h1.5M725 798h1.5M735 798h1.5M750 798h1.5M761 798h1.5M716 799h1.5M718 799h1.5M722 799h1.5M729 800h1.5M773 800h1.5M734 802h1.5M740 802h1.5M709 804h1.5M725 804h1.5M756 804h1.5M762 804h1.5M768 804h1.5M702 805h1.5M713 805h1.5M722 805h1.5M709 806h1.5M729 806h1.5M774 806h1.5M705 807h1.5M725 807h1.5M727 807h1.5M734 807h1.5M756 807h1.5M761 807h1.5M689 808h1.5M765 808h1.5M715 809h1.5M747 809h1.5M755 809h1.5M692 810h1.5M699 810h1.5M707 810h1.5M761 811h1.5M693 812h1.5M714 812h1.5M719 812h1.5M749 812h1.5M751 812h1.5M726 813h1.5M740 813h1.5M754 813h1.5M704 814h1.5M706 814h1.5M747 814h1.5M774 814h1.5M739 815h1.5M754 815h1.5M771 815h1.5M696 816h1.5M713 816h1.5M718 816h1.5M733 816h1.5M749 816h1.5M761 816h1.5M767 816h1.5M705 817h1.5M708 817h1.5M722 817h1.5M757 817h1.5M694 818h1.5M725 818h1.5M749 818h1.5M752 818h1.5M702 819h1.5M707 819h1.5M717 819h1.5M720 819h1.5M739 819h1.5M759 819h1.5M777 819h1.5M763 820h1.5M739 821h1.5M752 822h1.5M766 822h1.5M699 823h1.5M713 823h1.5M724 823h1.5M741 823h1.5M746 823h1.5M680 824h1.5M702 824h1.5M704 824h1.5M717 824h1.5M726 824h1.5M751 824h1.5M696 825h1.5M746 825h1.5M764 825h1.5M688 826h1.5M705 826h1.5M727 826h1.5M693 827h1.5M709 827h1.5M713 827h1.5M725 827h1.5M734 827h1.5M738 827h1.5M682 828h1.5M706 828h1.5M717 828h1.5M730 828h1.5M743 828h1.5M756 828h1.5M692 829h1.5M698 829h1.5M738 829h1.5M753 829h1.5M782 829h1.5M674 830h1.5M716 830h1.5M725 830h1.5M728 830h1.5M732 830h1.5M684 831h1.5M689 831h1.5M728 832h1.5M735 832h1.5M742 832h1.5M693 833h1.5M714 833h1.5M732 833h1.5M763 833h1.5M778 833h1.5M665 834h1.5M669 834h1.5M677 834h1.5M735 834h1.5M690 835h1.5M743 835h1.5M664 836h1.5M666 836h1.5M676 836h1.5" stroke="#707070" stroke-width="1.5"/><path transform="translate(0,0.5)" d="M680 729h1M678 730h2M749 730h2M671 735h2M769 736h1M662 737h2M769 737h1M751 744h1M752 745h1M764 745h1M766 745h1M669 746h1M752 746h1M762 746h1M765 746h2M670 747h1M762 747h1M669 748h1M674 748h2M763 748h1M675 749h1M778 752h1M781 752h1M784 752h1M681 753h2M774 753h1M778 753h1M780 753h1M782 753h1M785 753h1M679 754h1M773 754h1M679 755h1M759 755h1M760 756h1M685 762h1M684 763h1M762 764h2M762 765h1M683 766h1M690 766h1M759 766h2M682 767h1M690 767h1M720 767h2M657 768h1M660 768h1M754 768h1M766 768h1M770 768h1M656 769h1M660 769h1M693 769h1M753 769h1M767 769h1M771 769h1M671 770h1M692 770h1M754 770h1M767 770h2M770 770h1M671 771h1M761 771h1M766 771h4M663 772h2M709 772h1M760 772h1M762 772h2M657 773h3M661 773h1M708 773h1M730 773h1M659 774h2M671 774h1M683 774h1M731 774h1M654 775h1M672 775h1M681 775h1M684 775h2M688 775h1M699 775h1M654 776h1M663 776h2M673 776h1M680 776h1M687 776h2M692 776h1M698 776h1M750 776h1M758 776h1M649 777h2M653 777h1M655 777h1M663 777h1M681 777h1M683 777h1M693 777h1M750 777h1M759 777h1M763 777h2M647 778h1M663 778h2M669 778h2M677 778h1M680 778h1M684 778h1M692 778h1M694 778h1M696 778h1M646 779h1M675 779h1M678 779h1M685 779h1M688 779h2M697 779h1M716 779h1M763 779h2M666 780h1M669 780h2M676 780h2M679 780h2M684 780h1M686 780h1M694 780h1M715 780h1M764 780h1M644 781h2M658 781h2M665 781h1M667 781h2M676 781h1M681 781h1M689 781h2M692 781h2M648 782h1M650 782h2M653 782h3M660 782h1M662 782h2M665 782h2M669 782h1M679 782h1M682 782h1M687 782h1M693 782h2M643 783h1M645 783h5M651 783h1M654 783h5M664 783h1M666 783h4M677 783h1M679 783h2M686 783h1M691 783h1M694 783h1M723 783h1M643 784h2M647 784h1M650 784h4M658 784h1M660 784h1M662 784h2M668 784h1M673 784h2M678 784h1M681 784h1M689 784h3M722 784h1M642 785h1M646 785h1M648 785h5M654 785h6M663 785h2M666 785h2M669 785h1M672 785h1M674 785h1M676 785h1M678 785h2M696 785h2M711 785h1M640 786h1M642 786h3M646 786h1M648 786h1M650 786h1M654 786h1M656 786h1M658 786h1M663 786h3M671 786h3M675 786h1M680 786h2M694 786h1M698 786h1M710 786h2M759 786h2M765 786h1M640 787h1M642 787h2M645 787h5M651 787h3M655 787h7M664 787h4M669 787h5M675 787h5M681 787h1M689 787h1M694 787h1M696 787h2M713 787h1M755 787h1M762 787h1M766 787h1M637 788h1M639 788h1M642 788h1M645 788h2M649 788h2M652 788h1M655 788h2M658 788h1M660 788h4M665 788h7M676 788h1M680 788h4M689 788h1M691 788h1M697 788h1M699 788h1M714 788h1M754 788h1M758 788h1M761 788h1M633 789h1M636 789h1M641 789h4M646 789h1M648 789h1M650 789h5M657 789h1M659 789h4M666 789h1M669 789h4M675 789h1M680 789h2M686 789h3M690 789h1M692 789h1M698 789h1M714 789h1M730 789h1M754 789h1M756 789h1M759 789h2M633 790h1M635 790h1M642 790h4M648 790h1M650 790h2M653 790h7M661 790h3M666 790h2M669 790h4M677 790h4M682 790h1M688 790h1M690 790h1M692 790h1M699 790h1M702 790h1M712 790h1M729 790h1M755 790h2M633 791h1M637 791h6M644 791h2M647 791h1M649 791h1M652 791h9M663 791h3M667 791h4M674 791h1M677 791h1M680 791h1M682 791h1M685 791h1M687 791h1M689 791h1M703 791h3M712 791h1M755 791h3M628 792h1M632 792h2M637 792h8M646 792h4M651 792h2M654 792h3M658 792h5M664 792h4M669 792h2M672 792h1M674 792h1M677 792h1M682 792h1M686 792h1M689 792h1M694 792h1M705 792h2M718 792h3M756 792h1M758 792h2M629 793h1M633 793h1M635 793h1M637 793h2M640 793h1M643 793h1M645 793h2M649 793h3M654 793h4M660 793h7M668 793h2M671 793h6M678 793h1M681 793h2M684 793h2M691 793h1M695 793h1M755 793h1M629 794h1M631 794h3M636 794h1M642 794h1M644 794h3M649 794h6M657 794h2M660 794h1M662 794h1M665 794h2M669 794h1M671 794h3M675 794h3M680 794h1M683 794h2M686 794h3M690 794h3M694 794h1M696 794h1M745 794h2M626 795h1M630 795h2M634 795h4M639 795h9M650 795h7M658 795h8M667 795h3M671 795h7M681 795h1M685 795h1M690 795h1M693 795h1M696 795h1M699 795h1M756 795h1M626 796h1M631 796h8M640 796h17M658 796h1M661 796h6M669 796h3M674 796h3M679 796h4M685 796h2M693 796h4M698 796h2M755 796h2M627 797h2M631 797h9M641 797h15M658 797h9M668 797h2M671 797h3M676 797h2M681 797h2M684 797h1M686 797h1M690 797h1M694 797h1M696 797h1M699 797h1M703 797h1M721 797h1M739 797h1M626 798h1M628 798h2M631 798h1M633 798h1M635 798h9M645 798h9M655 798h3M659 798h6M666 798h2M669 798h4M674 798h1M676 798h1M678 798h2M683 798h1M686 798h5M694 798h1M702 798h2M708 798h1M720 798h1M738 798h1M747 798h1M625 799h3M630 799h4M635 799h23M659 799h7M667 799h3M671 799h4M676 799h2M681 799h1M683 799h1M686 799h5M694 799h1M704 799h1M708 799h1M737 799h2M743 799h2M747 799h2M753 799h1M764 799h1M625 800h1M628 800h1M630 800h1M632 800h45M679 800h3M684 800h2M688 800h1M690 800h2M696 800h1M702 800h2M748 800h1M754 800h1M759 800h2M763 800h2M766 800h2M625 801h2M628 801h3M632 801h24M657 801h10M668 801h2M671 801h3M675 801h2M678 801h3M683 801h3M687 801h1M691 801h2M696 801h2M716 801h1M743 801h1M746 801h1M749 801h1M754 801h1M760 801h1M625 802h1M628 802h39M668 802h2M671 802h5M677 802h1M681 802h1M684 802h2M687 802h3M691 802h2M694 802h1M697 802h1M708 802h1M715 802h1M743 802h1M746 802h1M748 802h1M754 802h1M761 802h1M625 803h1M627 803h8M636 803h13M650 803h24M675 803h1M679 803h2M683 803h2M686 803h1M689 803h4M695 803h1M698 803h1M707 803h1M712 803h1M715 803h1M746 803h1M750 803h1M754 803h1M626 804h2M629 804h4M634 804h26M661 804h9M671 804h1M674 804h3M678 804h1M681 804h3M685 804h1M687 804h3M691 804h2M694 804h1M697 804h1M711 804h1M717 804h2M751 804h1M625 805h1M627 805h5M633 805h32M666 805h1M668 805h3M673 805h2M676 805h1M678 805h1M680 805h3M685 805h1M687 805h1M689 805h2M695 805h1M697 805h1M733 805h2M739 805h1M625 806h1M627 806h5M633 806h36M670 806h1M672 806h1M674 806h2M677 806h3M681 806h1M685 806h2M689 806h1M691 806h2M740 806h1M743 806h1M745 806h1M753 806h2M625 807h2M629 807h10M640 807h26M667 807h3M672 807h2M675 807h7M684 807h1M692 807h1M695 807h1M711 807h1M743 807h1M745 807h2M748 807h2M753 807h1M625 808h1M627 808h3M631 808h45M677 808h2M683 808h1M692 808h1M695 808h2M707 808h2M711 808h1M741 808h1M626 809h1M628 809h5M634 809h38M674 809h1M676 809h2M679 809h2M683 809h4M694 809h1M696 809h2M702 809h2M712 809h1M736 809h2M740 809h2M751 809h1M627 810h46M674 810h2M677 810h1M680 810h3M696 810h1M709 810h2M722 810h1M738 810h1M742 810h1M744 810h1M751 810h1M625 811h1M627 811h32M660 811h9M670 811h3M674 811h3M680 811h2M684 811h2M696 811h1M721 811h1M745 811h3M625 812h4M630 812h1M632 812h27M660 812h8M669 812h2M672 812h2M675 812h1M681 812h2M684 812h1M686 812h1M695 812h1M733 812h1M746 812h2M625 813h2M628 813h33M662 813h8M671 813h5M678 813h2M681 813h2M686 813h1M688 813h1M690 813h2M708 813h2M733 813h1M736 813h1M628 814h40M669 814h1M671 814h4M676 814h2M680 814h1M687 814h3M691 814h2M708 814h1M710 814h1M737 814h1M626 815h5M632 815h39M672 815h2M676 815h3M686 815h1M691 815h1M708 815h1M741 815h2M745 815h1M625 816h2M628 816h1M630 816h36M667 816h4M674 816h2M678 816h1M681 816h2M684 816h2M687 816h1M715 816h1M727 816h1M729 816h1M741 816h1M746 816h1M626 817h3M630 817h30M661 817h10M672 817h1M678 817h3M682 817h2M686 817h1M690 817h1M716 817h1M728 817h1M742 817h2M746 817h1M625 818h10M636 818h30M667 818h1M669 818h4M674 818h2M680 818h3M686 818h1M691 818h1M734 818h1M742 818h3M746 818h1M626 819h2M629 819h25M655 819h3M659 819h7M668 819h2M672 819h2M675 819h2M678 819h1M680 819h1M682 819h2M685 819h1M688 819h1M690 819h1M699 819h1M733 819h1M741 819h1M744 819h1M626 820h2M629 820h3M633 820h28M662 820h2M665 820h5M671 820h1M673 820h1M675 820h1M678 820h3M685 820h2M689 820h3M693 820h2M698 820h1M745 820h2M626 821h29M656 821h4M661 821h1M663 821h3M667 821h6M676 821h1M679 821h1M683 821h1M685 821h1M706 821h1M714 821h1M729 821h2M732 821h3M744 821h1M625 822h10M636 822h11M648 822h14M664 822h3M668 822h5M676 822h1M678 822h1M680 822h1M684 822h1M686 822h1M704 822h2M715 822h1M744 822h1M626 823h4M631 823h36M670 823h2M673 823h2M677 823h1M687 823h2M732 823h1M738 823h1M628 824h1M632 824h36M669 824h4M674 824h3M684 824h1M732 824h1M739 824h1M627 825h4M632 825h31M664 825h8M673 825h1M682 825h1M684 825h1M720 825h1M742 825h2M749 825h1M630 826h3M634 826h2M639 826h8M648 826h3M652 826h10M663 826h1M665 826h2M670 826h2M673 826h2M678 826h1M681 826h1M684 826h2M690 826h1M720 826h1M749 826h1M626 827h3M630 827h1M632 827h23M656 827h4M661 827h4M666 827h1M669 827h2M673 827h1M675 827h2M679 827h1M685 827h1M690 827h1M625 828h1M627 828h35M663 828h6M674 828h1M677 828h1M686 828h1M625 829h3M629 829h2M632 829h7M640 829h17M658 829h3M663 829h2M666 829h1M669 829h2M745 829h1M747 829h2M625 830h1M628 830h1M631 830h3M635 830h16M652 830h3M656 830h3M660 830h5M666 830h1M668 830h5M711 830h1M719 830h2M735 830h2M744 830h1M625 831h2M628 831h5M634 831h11M647 831h4M652 831h3M657 831h3M662 831h1M665 831h1M667 831h1M669 831h1M681 831h1M711 831h1M626 832h3M631 832h1M633 832h4M638 832h2M641 832h2M644 832h2M647 832h4M652 832h4M657 832h3M661 832h3M665 832h2M670 832h1M681 832h1M721 832h1M625 833h1M628 833h1M630 833h1M634 833h2M637 833h3M641 833h3M645 833h11M657 833h3M661 833h1M663 833h1M667 833h1M721 833h1M625 834h1M631 834h1M634 834h1M636 834h3M641 834h3M645 834h5M651 834h2M654 834h6M662 834h1M679 834h1M681 834h1M737 834h1M739 834h1M761 834h1M625 835h2M629 835h1M632 835h2M635 835h10M647 835h3M654 835h2M658 835h1M660 835h1M662 835h1M679 835h1M681 835h1M738 835h1M761 835h1M626 836h1M628 836h1M630 836h1M634 836h1M637 836h4M643 836h5M649 836h7M657 836h1M659 836h3M673 836h2M732 836h2M738 836h1" stroke="#0a0a0a" stroke-width="1" shape-rendering="crispEdges"/></g>
<text class="ser" x="157.8" y="615.6" font-size="19.45" text-anchor="middle" fill="#000">siControl</text>
<path d="M60.4 632.6H263.4V834.6" stroke="#333" stroke-width="1" fill="none"/>
<path d="M60.4 632.6V834.6H263.4" stroke="#111" stroke-width="1.5" fill="none"/>
<path d="M56.9 819.4H60.4M75.6 834.6V838.1M56.9 810.5H60.4M84.5 834.6V838.1M56.9 804.2H60.4M90.8 834.6V838.1M56.9 799.3H60.4M95.7 834.6V838.1M56.9 795.3H60.4M99.7 834.6V838.1M56.9 791.9H60.4M103.1 834.6V838.1M56.9 789.0H60.4M106.0 834.6V838.1M56.9 786.4H60.4M108.6 834.6V838.1M56.9 768.9H60.4M126.1 834.6V838.1M56.9 760.0H60.4M135.0 834.6V838.1M56.9 753.7H60.4M141.3 834.6V838.1M56.9 748.8H60.4M146.2 834.6V838.1M56.9 744.8H60.4M150.2 834.6V838.1M56.9 741.4H60.4M153.6 834.6V838.1M56.9 738.5H60.4M156.5 834.6V838.1M56.9 735.9H60.4M159.1 834.6V838.1M56.9 718.4H60.4M176.6 834.6V838.1M56.9 709.5H60.4M185.5 834.6V838.1M56.9 703.2H60.4M191.8 834.6V838.1M56.9 698.3H60.4M196.7 834.6V838.1M56.9 694.3H60.4M200.7 834.6V838.1M56.9 690.9H60.4M204.1 834.6V838.1M56.9 688.0H60.4M207.0 834.6V838.1M56.9 685.4H60.4M209.6 834.6V838.1M56.9 667.9H60.4M227.1 834.6V838.1M56.9 659.0H60.4M236.0 834.6V838.1M56.9 652.7H60.4M242.3 834.6V838.1M56.9 647.8H60.4M247.2 834.6V838.1M56.9 643.8H60.4M251.2 834.6V838.1M56.9 640.4H60.4M254.6 834.6V838.1M56.9 637.5H60.4M257.5 834.6V838.1M56.9 634.9H60.4M260.1 834.6V838.1" stroke="#222" stroke-width="1" fill="none"/>
<path d="M54.0 834.6H60.4M60.4 834.6V841.0M54.0 784.1H60.4M110.9 834.6V841.0M54.0 733.6H60.4M161.4 834.6V841.0M54.0 683.1H60.4M211.9 834.6V841.0M54.0 632.6H60.4M262.4 834.6V841.0" stroke="#111" stroke-width="1.5" fill="none"/>
<path d="M60.4 757.1H263.4M164.8 632.6V834.6" stroke="#000" stroke-width="1.7" fill="none"/>
<g class="san" font-size="6.3" fill="#111" stroke="#111" stroke-width="0.15">
<text x="40.0" y="834.3">10<tspan dx="0.1" dy="-4.2" font-size="7.4">0</tspan></text>
<text x="64.9" y="853.5">10<tspan dx="0.1" dy="-4.9" font-size="7.4">0</tspan></text>
<text x="40.0" y="788.8">10<tspan dx="0.1" dy="-4.2" font-size="7.4">1</tspan></text>
<text x="111.9" y="853.5">10<tspan dx="0.1" dy="-4.9" font-size="7.4">1</tspan></text>
<text x="40.0" y="738.3">10<tspan dx="0.1" dy="-4.2" font-size="7.4">2</tspan></text>
<text x="162.4" y="853.5">10<tspan dx="0.1" dy="-4.9" font-size="7.4">2</tspan></text>
<text x="40.0" y="687.8">10<tspan dx="0.1" dy="-4.2" font-size="7.4">3</tspan></text>
<text x="212.9" y="853.5">10<tspan dx="0.1" dy="-4.9" font-size="7.4">3</tspan></text>
<text x="40.0" y="643.9">10<tspan dx="0.1" dy="-4.2" font-size="7.4">4</tspan></text>
<text x="251.9" y="853.5">10<tspan dx="0.1" dy="-4.9" font-size="7.4">4</tspan></text>
</g>
<g class="san" font-size="8.3" fill="#262626" stroke="#262626" stroke-width="0.2">
<text x="63.4" y="647.8">Q1</text><text x="63.4" y="660.0">0.29</text>
<text x="246.10" y="647.8" text-anchor="end">Q2</text><text x="246.10" y="660.0" text-anchor="end">1.22</text>
<text x="246.10" y="814.0" text-anchor="end">Q3</text><text x="246.10" y="825.9" text-anchor="end">1.70</text>
<text x="63.4" y="814.0">Q4</text><text x="63.4" y="825.9">96.8</text>
</g>
<text class="ser" x="172.6" y="872.5" font-size="13" text-anchor="middle" fill="#111" stroke="#111" stroke-width="0.2">Annexin V</text>
<text class="ser" transform="translate(22.4,737) rotate(-90)" font-size="13.8" text-anchor="middle" fill="#111" stroke="#111" stroke-width="0.2">PI</text>
<text class="ser" x="426.9" y="615.6" font-size="19.45" text-anchor="middle" fill="#000">siPLK1</text>
<path d="M328.6 632.6H531.6V834.6" stroke="#333" stroke-width="1" fill="none"/>
<path d="M328.6 632.6V834.6H531.6" stroke="#111" stroke-width="1.5" fill="none"/>
<path d="M325.1 819.4H328.6M343.8 834.6V838.1M325.1 810.5H328.6M352.7 834.6V838.1M325.1 804.2H328.6M359.0 834.6V838.1M325.1 799.3H328.6M363.9 834.6V838.1M325.1 795.3H328.6M367.9 834.6V838.1M325.1 791.9H328.6M371.3 834.6V838.1M325.1 789.0H328.6M374.2 834.6V838.1M325.1 786.4H328.6M376.8 834.6V838.1M325.1 768.9H328.6M394.3 834.6V838.1M325.1 760.0H328.6M403.2 834.6V838.1M325.1 753.7H328.6M409.5 834.6V838.1M325.1 748.8H328.6M414.4 834.6V838.1M325.1 744.8H328.6M418.4 834.6V838.1M325.1 741.4H328.6M421.8 834.6V838.1M325.1 738.5H328.6M424.7 834.6V838.1M325.1 735.9H328.6M427.3 834.6V838.1M325.1 718.4H328.6M444.8 834.6V838.1M325.1 709.5H328.6M453.7 834.6V838.1M325.1 703.2H328.6M460.0 834.6V838.1M325.1 698.3H328.6M464.9 834.6V838.1M325.1 694.3H328.6M468.9 834.6V838.1M325.1 690.9H328.6M472.3 834.6V838.1M325.1 688.0H328.6M475.2 834.6V838.1M325.1 685.4H328.6M477.8 834.6V838.1M325.1 667.9H328.6M495.3 834.6V838.1M325.1 659.0H328.6M504.2 834.6V838.1M325.1 652.7H328.6M510.5 834.6V838.1M325.1 647.8H328.6M515.4 834.6V838.1M325.1 643.8H328.6M519.4 834.6V838.1M325.1 640.4H328.6M522.8 834.6V838.1M325.1 637.5H328.6M525.7 834.6V838.1M325.1 634.9H328.6M528.3 834.6V838.1" stroke="#222" stroke-width="1" fill="none"/>
<path d="M322.2 834.6H328.6M328.6 834.6V841.0M322.2 784.1H328.6M379.1 834.6V841.0M322.2 733.6H328.6M429.6 834.6V841.0M322.2 683.1H328.6M480.1 834.6V841.0M322.2 632.6H328.6M530.6 834.6V841.0" stroke="#111" stroke-width="1.5" fill="none"/>
<path d="M328.6 757.1H531.6M432.3 632.6V834.6" stroke="#000" stroke-width="1.7" fill="none"/>
<g class="san" font-size="6.3" fill="#111" stroke="#111" stroke-width="0.15">
<text x="308.2" y="834.3">10<tspan dx="0.1" dy="-4.2" font-size="7.4">0</tspan></text>
<text x="333.1" y="853.5">10<tspan dx="0.1" dy="-4.9" font-size="7.4">0</tspan></text>
<text x="308.2" y="788.8">10<tspan dx="0.1" dy="-4.2" font-size="7.4">1</tspan></text>
<text x="380.1" y="853.5">10<tspan dx="0.1" dy="-4.9" font-size="7.4">1</tspan></text>
<text x="308.2" y="738.3">10<tspan dx="0.1" dy="-4.2" font-size="7.4">2</tspan></text>
<text x="430.6" y="853.5">10<tspan dx="0.1" dy="-4.9" font-size="7.4">2</tspan></text>
<text x="308.2" y="687.8">10<tspan dx="0.1" dy="-4.2" font-size="7.4">3</tspan></text>
<text x="481.1" y="853.5">10<tspan dx="0.1" dy="-4.9" font-size="7.4">3</tspan></text>
<text x="308.2" y="643.9">10<tspan dx="0.1" dy="-4.2" font-size="7.4">4</tspan></text>
<text x="520.1" y="853.5">10<tspan dx="0.1" dy="-4.9" font-size="7.4">4</tspan></text>
</g>
<g class="san" font-size="8.3" fill="#262626" stroke="#262626" stroke-width="0.2">
<text x="331.6" y="647.8">Q1</text><text x="331.6" y="660.0">0.73</text>
<text x="514.30" y="647.8" text-anchor="end">Q2</text><text x="514.30" y="660.0" text-anchor="end">2.74</text>
<text x="514.30" y="814.0" text-anchor="end">Q3</text><text x="514.30" y="825.9" text-anchor="end">10.2</text>
<text x="331.6" y="814.0">Q4</text><text x="331.6" y="825.9">86.4</text>
</g>
<text class="ser" x="437" y="873.4" font-size="13" text-anchor="middle" fill="#111" stroke="#111" stroke-width="0.2">Annexin V</text>
<text class="ser" transform="translate(291.9,737) rotate(-90)" font-size="13.8" text-anchor="middle" fill="#111" stroke="#111" stroke-width="0.2">PI</text>
<text class="ser" x="693.6" y="618" font-size="19.45" text-anchor="middle" fill="#000">siKPNB1</text>
<path d="M596.5 635.4H799.5V837.4" stroke="#333" stroke-width="1" fill="none"/>
<path d="M596.5 635.4V837.4H799.5" stroke="#111" stroke-width="1.5" fill="none"/>
<path d="M593.0 822.2H596.5M611.7 837.4V840.9M593.0 813.3H596.5M620.6 837.4V840.9M593.0 807.0H596.5M626.9 837.4V840.9M593.0 802.1H596.5M631.8 837.4V840.9M593.0 798.1H596.5M635.8 837.4V840.9M593.0 794.7H596.5M639.2 837.4V840.9M593.0 791.8H596.5M642.1 837.4V840.9M593.0 789.2H596.5M644.7 837.4V840.9M593.0 771.7H596.5M662.2 837.4V840.9M593.0 762.8H596.5M671.1 837.4V840.9M593.0 756.5H596.5M677.4 837.4V840.9M593.0 751.6H596.5M682.3 837.4V840.9M593.0 747.6H596.5M686.3 837.4V840.9M593.0 744.2H596.5M689.7 837.4V840.9M593.0 741.3H596.5M692.6 837.4V840.9M593.0 738.7H596.5M695.2 837.4V840.9M593.0 721.2H596.5M712.7 837.4V840.9M593.0 712.3H596.5M721.6 837.4V840.9M593.0 706.0H596.5M727.9 837.4V840.9M593.0 701.1H596.5M732.8 837.4V840.9M593.0 697.1H596.5M736.8 837.4V840.9M593.0 693.7H596.5M740.2 837.4V840.9M593.0 690.8H596.5M743.1 837.4V840.9M593.0 688.2H596.5M745.7 837.4V840.9M593.0 670.7H596.5M763.2 837.4V840.9M593.0 661.8H596.5M772.1 837.4V840.9M593.0 655.5H596.5M778.4 837.4V840.9M593.0 650.6H596.5M783.3 837.4V840.9M593.0 646.6H596.5M787.3 837.4V840.9M593.0 643.2H596.5M790.7 837.4V840.9M593.0 640.3H596.5M793.6 837.4V840.9M593.0 637.7H596.5M796.2 837.4V840.9" stroke="#222" stroke-width="1" fill="none"/>
<path d="M590.1 837.4H596.5M596.5 837.4V843.8M590.1 786.9H596.5M647.0 837.4V843.8M590.1 736.4H596.5M697.5 837.4V843.8M590.1 685.9H596.5M748.0 837.4V843.8M590.1 635.4H596.5M798.5 837.4V843.8" stroke="#111" stroke-width="1.5" fill="none"/>
<path d="M596.5 758.7H799.5M701 635.4V837.4" stroke="#000" stroke-width="1.7" fill="none"/>
<g class="san" font-size="6.3" fill="#111" stroke="#111" stroke-width="0.15">
<text x="576.1" y="837.1">10<tspan dx="0.1" dy="-4.2" font-size="7.4">0</tspan></text>
<text x="601.0" y="856.3">10<tspan dx="0.1" dy="-4.9" font-size="7.4">0</tspan></text>
<text x="576.1" y="791.6">10<tspan dx="0.1" dy="-4.2" font-size="7.4">1</tspan></text>
<text x="648.0" y="856.3">10<tspan dx="0.1" dy="-4.9" font-size="7.4">1</tspan></text>
<text x="576.1" y="741.1">10<tspan dx="0.1" dy="-4.2" font-size="7.4">2</tspan></text>
<text x="698.5" y="856.3">10<tspan dx="0.1" dy="-4.9" font-size="7.4">2</tspan></text>
<text x="576.1" y="690.6">10<tspan dx="0.1" dy="-4.2" font-size="7.4">3</tspan></text>
<text x="749.0" y="856.3">10<tspan dx="0.1" dy="-4.9" font-size="7.4">3</tspan></text>
<text x="576.1" y="646.7">10<tspan dx="0.1" dy="-4.2" font-size="7.4">4</tspan></text>
<text x="788.0" y="856.3">10<tspan dx="0.1" dy="-4.9" font-size="7.4">4</tspan></text>
</g>
<g class="san" font-size="8.3" fill="#262626" stroke="#262626" stroke-width="0.2">
<text x="599.5" y="650.6">Q1</text><text x="599.5" y="662.8">0.52</text>
<text x="782.2" y="650.6" text-anchor="end">Q2</text><text x="782.2" y="662.8" text-anchor="end">0.90</text>
<text x="782.2" y="816.8" text-anchor="end">Q3</text><text x="782.2" y="828.7" text-anchor="end">5.24</text>
<text x="599.5" y="816.8">Q4</text><text x="599.5" y="828.7">93.3</text>
</g>
<text class="ser" x="708.9" y="872.1" font-size="13" text-anchor="middle" fill="#111" stroke="#111" stroke-width="0.2">Annexin V</text>
<text class="ser" transform="translate(563.4,737) rotate(-90)" font-size="13.8" text-anchor="middle" fill="#111" stroke="#111" stroke-width="0.2">PI</text>
</svg></body></html>
